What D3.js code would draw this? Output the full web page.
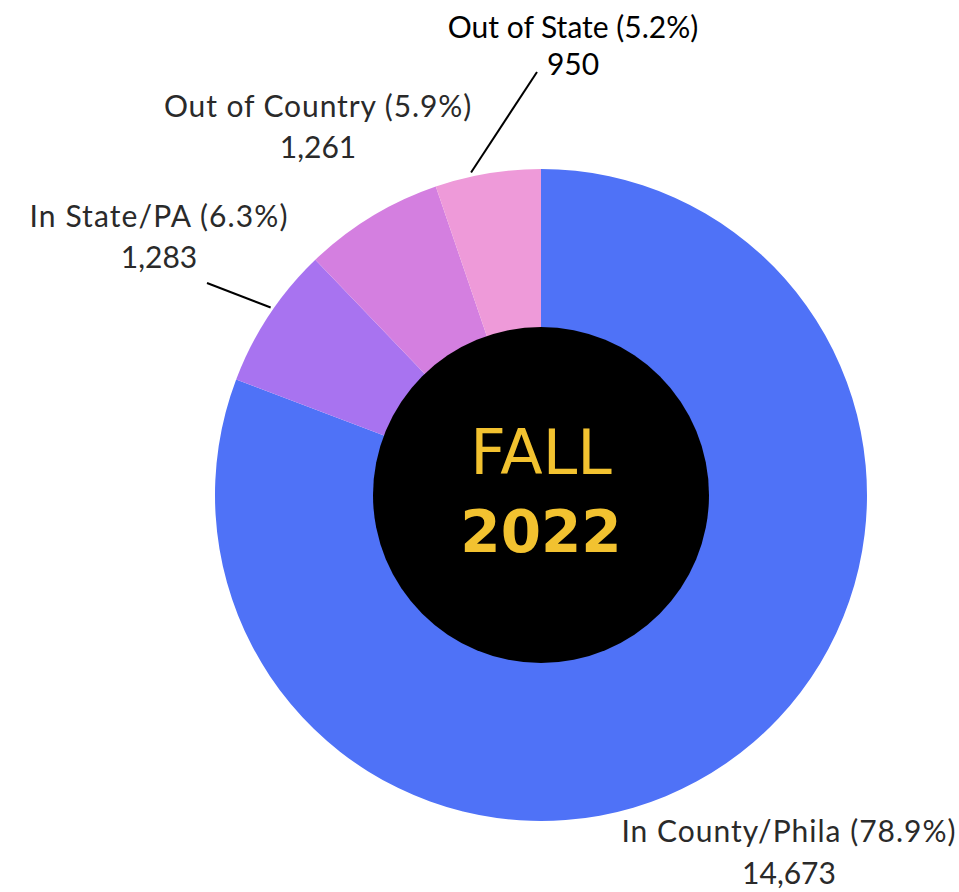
<!DOCTYPE html>
<html>
<head>
<meta charset="utf-8">
<script src="https://cdn.jsdelivr.net/npm/d3@7"></script>
<style>
  body { margin: 0; background: #fff; }
  .lbl { font-family: Lato, sans-serif; font-size: 30px; fill: #2a2a2a; text-anchor: middle; }
</style>
</head>
<body>
<div id="chart"></div>
<script>
// data
var categories = ["In County/Phila", "In State/PA", "Out of Country", "Out of State"];
var counts = [14673, 1283, 1261, 950];
var pctLabels = ["78.9%", "6.3%", "5.9%", "5.2%"];
var colors = ["#4f72f7", "#a873f0", "#d47fe0", "#ee9ad9"];

var width = 959, height = 892;
var cx = 541, cy = 495;
var outerR = 326, innerR = 168;

var svg = d3.select("#chart")
    .append("svg")
    .attr("width", width)
    .attr("height", height);

var g = svg.append("g")
    .attr("transform", `translate(${cx}, ${cy})`);

var pie = d3.pie().sort(null).value(d => d.value);
var arc = d3.arc().innerRadius(0).outerRadius(outerR);

var rows = categories.map((c, i) => ({ name: c, value: counts[i], pct: pctLabels[i], color: colors[i] }));
var arcs = pie(rows);

g.selectAll("path.slice")
    .data(arcs)
    .enter()
    .append("path")
    .attr("class", "slice")
    .attr("d", arc)
    .attr("fill", d => d.data.color);

// black centre
g.append("circle")
    .attr("r", innerR)
    .attr("fill", "#000");

g.append("text")
    .attr("y", -21)
    .attr("text-anchor", "middle")
    .style("font-family", "'DejaVu Sans', sans-serif")
    .style("font-size", "62px")
    .attr("fill", "#f2c230")
    .text("FALL");

g.append("text")
    .attr("y", 57)
    .attr("text-anchor", "middle")
    .style("font-family", "'DejaVu Sans', sans-serif")
    .style("font-size", "58px")
    .style("font-weight", "bold")
    .attr("fill", "#f2c230")
    .text("2022");

// label layout (page coords): centre x, first baseline, line gap, letter spacing
var labelPos = [[789, 842, 42, 1], [159, 227, 41, 1.1], [318, 117, 41, 0.9], [573, 38, 37, 0]];

rows.forEach(function(d, i) {
    var p = labelPos[i];
    var t = svg.append("text")
        .attr("class", "lbl")
        .attr("x", p[0])
        .attr("y", p[1])
        .style("fill", i === 3 ? "#000" : null);
    t.append("tspan")
        .style("letter-spacing", p[3] + "px")
        .text(d.name + " (" + d.pct + ")");
    t.append("tspan")
        .attr("x", p[0])
        .attr("dy", p[2])
        .text(d3.format(",")(d.value));
});

// leader lines, from label to the slice edge
var leaders = [
    { i: 3, from: [537, 72], r: outerR + 4, f: 0.35 },
    { i: 1, from: [207, 283], r: outerR + 3, f: 0.55 }
];
leaders.forEach(function(l) {
    var a = arcs[l.i];
    var ang = a.startAngle + (a.endAngle - a.startAngle) * l.f;
    var x2 = cx + l.r * Math.sin(ang);
    var y2 = cy - l.r * Math.cos(ang);
    svg.append("line")
        .attr("x1", l.from[0]).attr("y1", l.from[1])
        .attr("x2", x2).attr("y2", y2)
        .attr("stroke", "#000")
        .attr("stroke-width", 2);
});
</script>
</body>
</html>
